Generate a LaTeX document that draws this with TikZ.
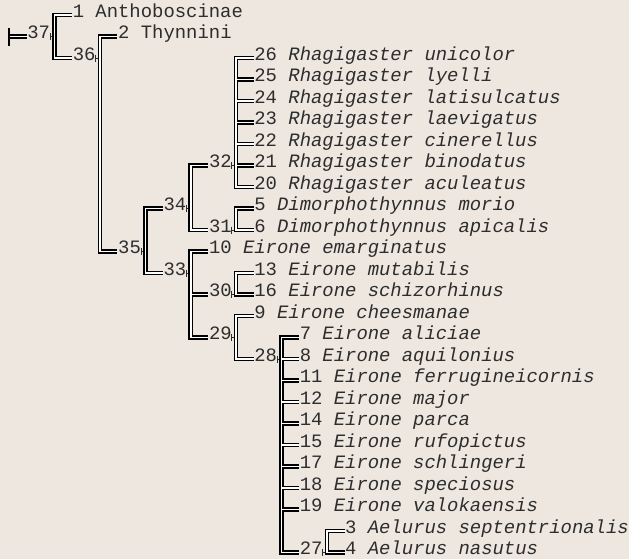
\documentclass[tikz,border=0pt]{standalone}
\usepackage{fontspec}
\newfontfamily\cladefont{Liberation Mono}
\definecolor{paper}{RGB}{237,231,223}
\definecolor{ink}{RGB}{45,45,45}

\begin{document}
\begin{tikzpicture}[x=11.35pt, y=-21.5pt,
    every node/.style={font=\cladefont\fontsize{18.9pt}{22pt}\selectfont, text=ink, inner sep=0.5pt, anchor=mid west},
    dblout/.style={draw=black, line width=4.6pt},
    dblin/.style={draw=white, line width=1.6pt},
    bar/.style={line cap=rect},
    tick/.style={draw=ink, line width=0.8pt}]
  \useasboundingbox[fill=paper] (-0.352,-0.698) rectangle (55.066,25.302);

  % clade numbers, each with the point of its bar
  \coordinate (broot) at (0.44,1);
  \foreach \id/\col/\row in {37/2/1, 36/6/2, 35/10/11, 34/14/9, 33/14/12, 32/18/7, 31/18/10, 30/18/13, 29/18/15, 28/22/16, 27/26/25} {
    \node (n\id) at (\col,\row) {\id};
    \coordinate (b\id) at ({\col+2.45},\row);
  }

  % taxa
  \node (l1) at (6,0) {1 Anthoboscinae};
  \node (l2) at (10,1) {2 Thynnini};
  \foreach \id/\row/\ep in {26/2/unicolor, 25/3/lyelli, 24/4/latisulcatus, 23/5/laevigatus, 22/6/cinerellus, 21/7/binodatus, 20/8/aculeatus}
    \node (l\id) at (22,\row) {\id\ \textit{Rhagigaster \ep}};
  \node (l5) at (22,9) {5 \textit{Dimorphothynnus morio}};
  \node (l6) at (22,10) {6 \textit{Dimorphothynnus apicalis}};
  \node (l10) at (18,11) {10 \textit{Eirone emarginatus}};
  \node (l13) at (22,12) {13 \textit{Eirone mutabilis}};
  \node (l16) at (22,13) {16 \textit{Eirone schizorhinus}};
  \node (l9) at (22,14) {9 \textit{Eirone cheesmanae}};
  \foreach \id/\row/\ep in {7/15/aliciae, 8/16/aquilonius, 11/17/ferrugineicornis, 12/18/major, 14/19/parca, 15/20/rufopictus, 17/21/schlingeri, 18/22/speciosus, 19/23/valokaensis}
    \node (l\id) at (26,\row) {\id\ \textit{Eirone \ep}};
  \node (l3) at (30,24) {3 \textit{Aelurus septentrionalis}};
  \node (l4) at (30,25) {4 \textit{Aelurus nasutus}};

  % little ticks from a clade number to its bar
  \foreach \id in {37,36,35,34,33,32,31,30,29,28,27} {
    \draw[tick] (n\id.mid east) -- (b\id);
    \draw[tick] ([xshift=-4.4pt,yshift=3.5pt]b\id) -- ([xshift=-4.4pt,yshift=-3.5pt]b\id);
  }

  % double lines: black first, then the white core
  \def\cladeedges{37/l1, 37/n36, 36/l2, 36/n35, 35/n34, 35/n33, 34/n32, 34/n31,
    32/l26, 32/l25, 32/l24, 32/l23, 32/l22, 32/l21, 32/l20, 31/l5, 31/l6,
    33/l10, 33/n30, 33/n29, 30/l13, 30/l16, 29/l9, 29/n28,
    28/l7, 28/l8, 28/l11, 28/l12, 28/l14, 28/l15, 28/l17, 28/l18, 28/l19, 28/n27,
    27/l3, 27/l4}
  \draw[dblout] (broot) -- (n37.mid west);
  \foreach \p/\ch in \cladeedges {
    \draw[dblout, bar] (b\p) -- (b\p |- \ch.mid west);
    \draw[dblout] (b\p |- \ch.mid west) -- (\ch.mid west);
  }
  \draw[dblin] (broot) -- (n37.mid west);
  \foreach \p/\ch in \cladeedges {
    \draw[dblin, bar] (b\p) -- (b\p |- \ch.mid west);
    \draw[dblin] (b\p |- \ch.mid west) -- (\ch.mid west);
  }
  \draw[line width=1.4pt] ([yshift=9pt]broot) -- ([yshift=-9pt]broot);
\end{tikzpicture}
\end{document}
